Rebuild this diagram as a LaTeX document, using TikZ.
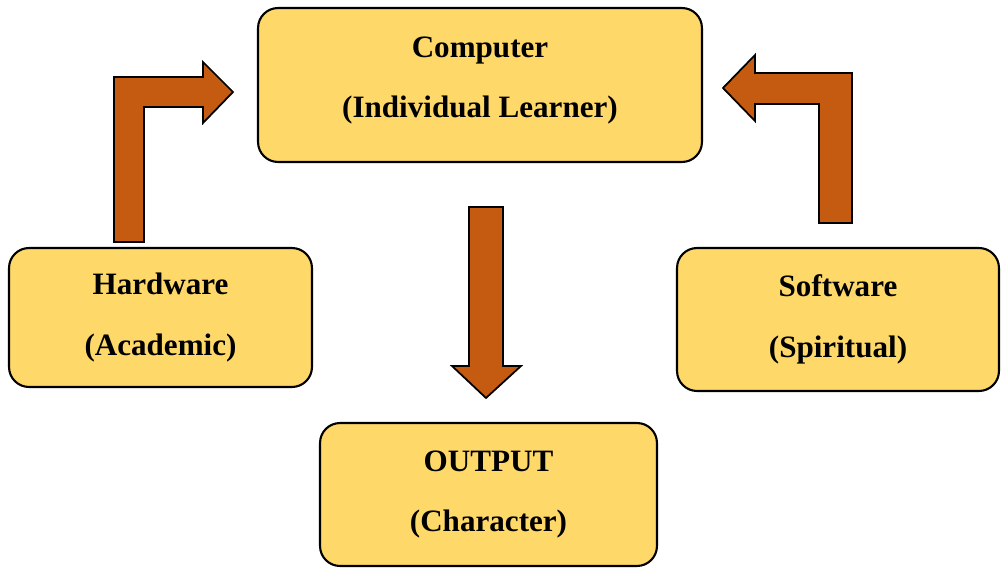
\documentclass[tikz,border=0pt]{standalone}
\usepackage{fontspec}
\setmainfont{Liberation Serif}
\usetikzlibrary{positioning}
\definecolor{boxyellow}{RGB}{254, 217, 106}
\definecolor{arrowbrown}{RGB}{197, 90, 17}

\begin{document}
\begin{tikzpicture}[
            x=0.02cm, y=-0.02cm,
            box/.style={draw=black, line width=1.2pt, fill=boxyellow, rounded corners=0.4cm, align=center, font=\bfseries\fontsize{17.7}{34.5}\selectfont},
            bigarrow/.style={draw=black, line width=1pt, fill=arrowbrown, line join=miter}
        ]
            \useasboundingbox (0,0) rectangle (1001,568);

            \node[box, minimum width=8.88cm, minimum height=3.08cm, text depth=9pt] (computer) at (480,85) {Computer\\(Individual Learner)};
            \node[box, minimum width=6.06cm, minimum height=2.78cm] (hardware) at (160.5,317.5) {Hardware\\(Academic)};
            \node[box, minimum width=6.44cm, minimum height=2.86cm] (software) at (838,319.5) {Software\\(Spiritual)};
            \node[box, minimum width=6.74cm, minimum height=2.86cm] (output) at (488.5,494.5) {OUTPUT\\(Character)};

            % bent arrow: hardware -> computer
            \draw[bigarrow] (114,242) -- (114,77) -- (203,77) -- (203,62) -- (233,92) -- (203,123) -- (203,107) -- (144,107) -- (144,242) -- cycle;
            % bent arrow: software -> computer
            \draw[bigarrow] (852,223) -- (852,73) -- (755,73) -- (755,55) -- (723,88) -- (755,121) -- (755,104) -- (819,104) -- (819,223) -- cycle;
            % straight arrow: computer -> output
            \draw[bigarrow] (469,207) -- (503,207) -- (503,366) -- (521,366) -- (486,398) -- (452,366) -- (469,366) -- cycle;
        \end{tikzpicture}
\end{document}
